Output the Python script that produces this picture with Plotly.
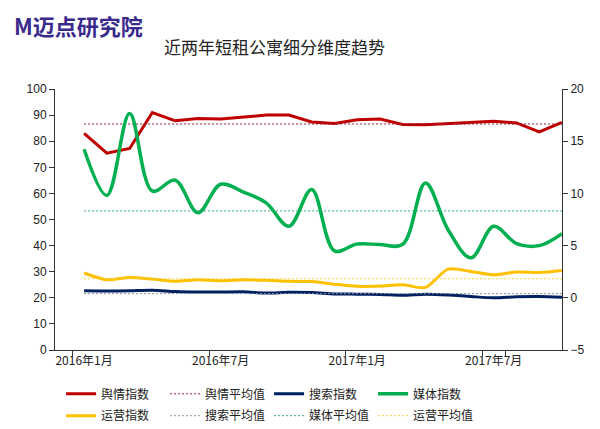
import plotly.graph_objects as go

# months on the category axis (2016-01 .. 2017-10)
MONTHS = [f"2016年{m}月" for m in range(1, 13)] + [f"2017年{m}月" for m in range(1, 11)]
TICK_LABELS = ["2016年1月", "2016年7月", "2017年1月", "2017年7月"]

# index values (left axis scale)
yuqing = [83.0, 75.4, 77.2, 91.0, 87.8, 88.7, 88.5, 89.3, 90.0, 90.0, 87.4,
          86.8, 88.2, 88.5, 86.4, 86.3, 86.7, 87.2, 87.6, 87.0, 83.6, 87.2]
sousuo = [22.7, 22.6, 22.7, 22.9, 22.4, 22.2, 22.2, 22.3, 21.8, 22.1, 22.0,
          21.5, 21.4, 21.3, 21.0, 21.4, 21.1, 20.5, 20.0, 20.4, 20.5, 20.2]
meiti = [76.9, 59.2, 90.6, 60.9, 65.1, 52.6, 63.5, 60.5, 56.4, 47.4, 61.5,
         38.0, 40.6, 40.4, 40.5, 64.0, 46.0, 35.3, 47.4, 40.8, 40.0, 44.6]
yunying = [29.5, 26.9, 27.8, 27.2, 26.3, 26.9, 26.5, 26.9, 26.7, 26.3, 26.2,
           25.2, 24.4, 24.5, 25.0, 24.0, 31.0, 30.1, 28.8, 29.9, 29.7, 30.5]

# average lines
yuqing_avg = 86.6
sousuo_avg = 21.6
meiti_avg = 53.3
yunying_avg = 27.3

RED, NAVY, GREEN, GOLD = "#C00000", "#002060", "#00B050", "#FFC000"

fig = go.Figure()

def avg_line(name, val, color, legend="legend"):
    return go.Scatter(x=MONTHS, y=[val] * len(MONTHS), mode="lines", name=name,
                      legend=legend, line=dict(color=color, width=1, dash="2px,2px"))

# legend row 1
fig.add_trace(go.Scatter(x=MONTHS, y=yuqing, mode="lines", name="舆情指数",
                         line=dict(color=RED, width=3)))
fig.add_trace(avg_line("舆情平均值", yuqing_avg, "#8B1A3A"))
fig.add_trace(go.Scatter(x=MONTHS, y=sousuo, mode="lines", name="搜索指数",
                         line=dict(color=NAVY, width=3, shape="spline", smoothing=0.8)))
fig.add_trace(go.Scatter(x=MONTHS, y=meiti, mode="lines", name="媒体指数",
                         line=dict(color=GREEN, width=3.5, shape="spline", smoothing=1)))
# legend row 2
fig.add_trace(go.Scatter(x=MONTHS, y=yunying, mode="lines", name="运营指数",
                         legend="legend2",
                         line=dict(color=GOLD, width=3, shape="spline", smoothing=0.8)))
fig.add_trace(avg_line("搜索平均值", sousuo_avg, "#7F8FA6", "legend2"))
fig.add_trace(avg_line("媒体平均值", meiti_avg, "#3AA882", "legend2"))
fig.add_trace(avg_line("运营平均值", yunying_avg, "#F5D14A", "legend2"))

# invisible trace just to bring up the right axis
fig.add_trace(go.Scatter(x=[MONTHS[0]], y=[None], yaxis="y2", showlegend=False,
                         hoverinfo="skip"))

axis_font = dict(family="Liberation Sans, Arial", size=12, color="#222")
legend_font = dict(family="Noto Sans CJK SC", size=12, color="#222")

# page body has an 8px margin, so the figure is 8px smaller than the window
fig.update_layout(
    width=592, height=421,
    paper_bgcolor="white", plot_bgcolor="white",
    margin=dict(l=47, r=38, t=81, b=79),
    font=dict(family="Noto Sans CJK SC", size=12, color="#222"),
    xaxis=dict(type="category", categoryorder="array", categoryarray=MONTHS,
               tickvals=TICK_LABELS, ticktext=TICK_LABELS, tickson="boundaries",
               tickangle=0, ticks="outside", ticklen=5, tickcolor="#333",
               showline=True, linecolor="#333", linewidth=1, showgrid=False,
               automargin=False,
               tickfont=dict(family="Noto Sans CJK SC", size=12, color="#222")),
    yaxis=dict(range=[0, 100], dtick=10, ticks="outside", ticklen=5, tickcolor="#333",
               showline=True, linecolor="#333", linewidth=1, showgrid=False,
               zeroline=False, automargin=False, tickfont=axis_font),
    yaxis2=dict(range=[-5, 20], dtick=5, overlaying="y", side="right",
                ticks="outside", ticklen=5, tickcolor="#333",
                showline=True, linecolor="#333", linewidth=1, showgrid=False,
                zeroline=False, automargin=False, tickfont=axis_font),
    legend=dict(orientation="h", x=0.012, xanchor="left",
                yref="container", y=0.118, yanchor="top",
                entrywidth=59, tracegroupgap=0, font=legend_font),
    legend2=dict(orientation="h", x=0.012, xanchor="left",
                 yref="container", y=0.066, yanchor="top",
                 entrywidth=59, tracegroupgap=0, font=legend_font),
    showlegend=True,
)

fig.add_annotation(text="近两年短租公寓细分维度趋势", xref="paper", yref="paper",
                   x=0.432, y=1.163, yanchor="middle", showarrow=False,
                   font=dict(family="Noto Sans CJK SC", size=17, color="#222"))

fig.add_annotation(text="<b>M迈点研究院</b>",
                   xref="paper", yref="paper", x=-0.085, xanchor="left",
                   y=1.245, yanchor="middle", showarrow=False,
                   font=dict(family="Noto Sans CJK SC", size=22, color="#3A2A8C"))

fig.write_html("out.html")
